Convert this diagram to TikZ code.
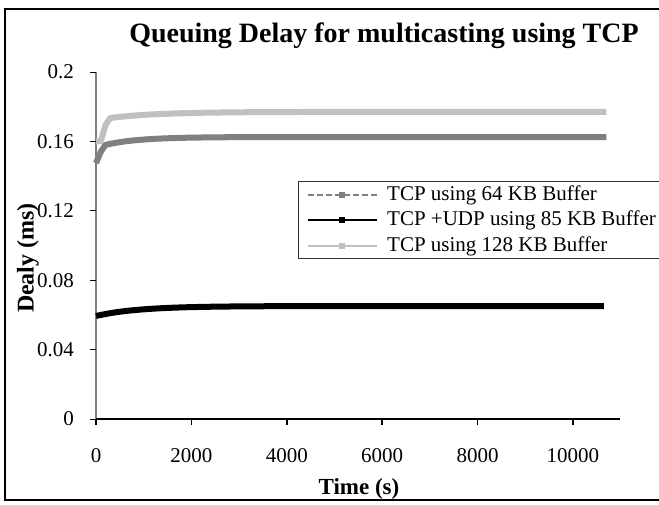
\documentclass[tikz,border=0pt]{standalone}
\usepackage{fontspec}
\setmainfont{Liberation Serif}
\definecolor{lgray}{HTML}{C0C0C0}
\definecolor{mgray}{HTML}{808080}
\begin{document}
\begin{tikzpicture}[x=1pt,y=-1pt,
  ticklab/.style={font=\fontsize{21}{24}\selectfont, inner sep=0pt},
  legtext/.style={font=\fontsize{21}{24}\selectfont, anchor=west, inner sep=0pt},
  series/.style={line width=6pt, line join=round},
  legline/.style={line width=2.2pt},
  legmark/.style={draw=none, minimum size=6.5pt, inner sep=0pt, rectangle}
]
\useasboundingbox (0,0) rectangle (659,504);
\clip (0,0) rectangle (659,504);
\fill[white] (0,0) rectangle (659,504);
% outer frame
\draw[line width=1.5pt] (5,9) rectangle (665,500);
% title
\node[font=\bfseries\fontsize{28}{31}\selectfont, inner sep=0pt] (title) at (384,36) {Queuing Delay for multicasting using TCP};
% y axis
\draw[mgray, line width=1.2pt] (96,72) -- (96,419);
\foreach \v/\lab in {0/0,0.04/0.04,0.08/0.08,0.12/0.12,0.16/0.16,0.2/0.2} {
  \draw[line width=1pt] (90,{419-1735*\v}) -- (96,{419-1735*\v});
  \node[ticklab, anchor=east] (yl\lab) at (74,{419-1735*\v}) {\lab};
}
% x axis
\draw[line width=2.2pt] (96,419) -- (620,419);
\foreach \t in {0,2000,4000,6000,8000,10000} {
  \draw[line width=1.6pt] ({96+0.0477*\t},419) -- ({96+0.0477*\t},425);
  \node[ticklab] (xl\t) at ({96+0.0477*\t},456) {\t};
}
% series: 128 KB
\draw[series, lgray] (96,{419-1735*0.16}) -- ({96+4.77},{419-1735*0.16}) -- ({96+9.54},{419-1735*0.1695})
  -- plot[domain=300:10700, samples=80] ({96+0.0477*\x},{419-1735*(0.177-0.0035*exp(-(\x-300)/1000))});
% series: 64 KB
\draw[series, mgray] (96,{419-1735*0.1475}) -- ({96+4.77},{419-1735*0.154})
  -- plot[domain=200:10700, samples=80] ({96+0.0477*\x},{419-1735*(0.1625-0.0045*exp(-(\x-200)/700))});
% series: TCP+UDP 85 KB
\draw[series, black] plot[domain=0:10650, samples=80] ({96+0.0477*\x},{419-1735*(0.0651-0.0057*exp(-\x/900))});
% axis labels
\node[font=\bfseries\fontsize{23}{26}\selectfont, inner sep=0pt] (xlabel) at (359,489) {Time (s)};
\node[font=\bfseries\fontsize{24}{27}\selectfont, inner sep=0pt, rotate=90] (ylabel) at (28,258) {Dealy (ms)};
% legend
\draw[line width=1pt, black!80] (298,181) rectangle (670,258);
\coordinate (l1a) at (308,195); \coordinate (l1b) at (377,195);
\coordinate (l2a) at (308,220); \coordinate (l2b) at (377,220);
\coordinate (l3a) at (308,246); \coordinate (l3b) at (377,246);
\draw[legline, mgray, dash pattern=on 6pt off 3pt] (l1a) -- (l1b);
\draw[legline, black] (l2a) -- (l2b);
\draw[legline, lgray] (l3a) -- (l3b);
\node[legmark, fill=mgray] (m1) at (342,195) {};
\node[legmark, fill=black] (m2) at (342,220) {};
\node[legmark, fill=lgray] (m3) at (342,246) {};
\node[legtext] (t1) at (387,195) {TCP using 64 KB Buffer};
\node[legtext] (t2) at (387,220) {TCP +UDP using 85 KB Buffer};
\node[legtext] (t3) at (387,246) {TCP using 128 KB Buffer};
\end{tikzpicture}
\end{document}
